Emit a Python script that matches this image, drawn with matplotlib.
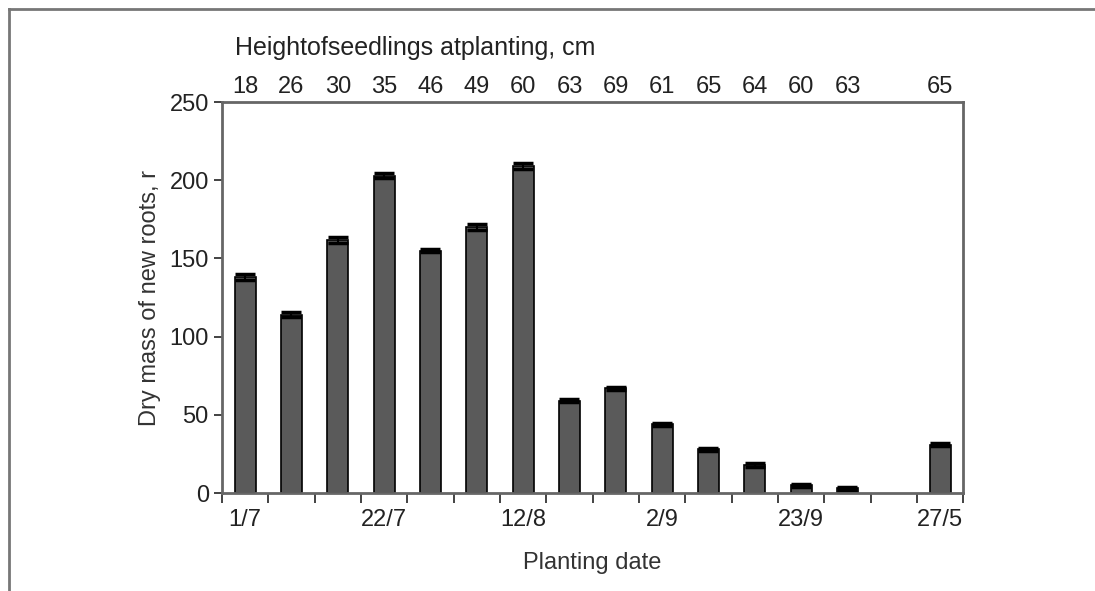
import numpy as np
import matplotlib
matplotlib.use("Agg")
import matplotlib.pyplot as plt
from matplotlib.lines import Line2D

plt.rcParams['font.family'] = ['Liberation Sans', 'DejaVu Sans']

# 16 planting slots, slot 15 has no data
dry_mass = [138, 114, 162, 203, 155, 170, 209, 59, 67, 44, 28, 18, 5, 3, np.nan, 31]
errors = [2, 1.5, 2, 1.5, 1, 2, 2, 1, 1, 1, 1, 1.5, 1, 1, np.nan, 1]
heights = ['18', '26', '30', '35', '46', '49', '60', '63', '69', '61', '65', '64', '60', '63', '', '65']
date_labels = {0: '1/7', 3: '22/7', 6: '12/8', 9: '2/9', 12: '23/9', 15: '27/5'}

x = np.arange(len(dry_mass))

fig = plt.figure(figsize=(10.95, 5.91), dpi=100)
ax = fig.add_axes([0.2027, 0.1658, 0.677, 0.6616])

ax.bar(x, dry_mass, width=0.45, color='#5a5a5a', edgecolor='black', linewidth=1.2)
ax.errorbar(x, dry_mass, yerr=errors, fmt='none', ecolor='black', elinewidth=1.5,
            capsize=7, capthick=2.5)

ax.set_xlim(-0.5, len(x) - 0.5)
ax.set_ylim(0, 250)
ax.set_yticks([0, 50, 100, 150, 200, 250])
ax.tick_params(axis='y', labelsize=17, direction='out', length=6, width=1.2, colors='#222222')

# ticks at slot boundaries, labels under selected slots
ax.set_xticks(np.arange(-0.5, len(x)))
ax.set_xticklabels([])
ax.tick_params(axis='x', direction='out', length=7, width=1.2, colors='#222222')
for i, lab in date_labels.items():
    ax.text(i, -0.04, lab, transform=ax.get_xaxis_transform(), ha='center', va='top',
            fontsize=17, color='#222222')

for s in ax.spines.values():
    s.set_color('#666666')
    s.set_linewidth(2)

ax.set_ylabel('Dry mass of new roots, r', fontsize=17, color='#333333', labelpad=6)
ax.set_xlabel('Planting date', fontsize=17, color='#333333', labelpad=32)

top = ax.secondary_xaxis('top')
top.set_xticks(x)
top.set_xticklabels(heights)
top.tick_params(axis='x', length=0, labelsize=17, pad=3, colors='#222222')
top.spines['top'].set_visible(False)

fig.text(235 / 1095, 1 - 48 / 591, 'Heightofseedlings atplanting, cm', ha='left', va='center',
         fontsize=18, color='#222222')

# frame lines of the original figure panel
fig.add_artist(Line2D([9 / 1095, 9 / 1095], [0, 1 - 8.5 / 591], color='#777777', linewidth=2))
fig.add_artist(Line2D([9 / 1095, 1], [1 - 8.5 / 591, 1 - 8.5 / 591], color='#777777', linewidth=2))

plt.savefig('out.png', dpi=100)
